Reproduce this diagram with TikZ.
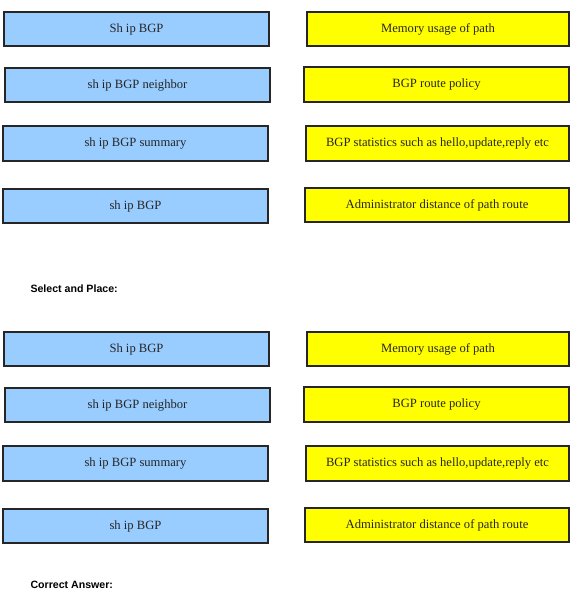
\documentclass[tikz,border=0pt]{standalone}
\usepackage{fontspec}
\setmainfont{Liberation Serif}
\newfontfamily\labelfont{Liberation Sans}

\definecolor{cmdblue}{HTML}{99CCFF}
\definecolor{descyellow}{HTML}{FFFF00}

\tikzset{
  cmdbox/.style={draw=black!85, line width=1.2pt, fill=cmdblue, inner sep=0pt,
    text=black!85, font=\fontsize{12.6}{14}\selectfont},
  descbox/.style={cmdbox, fill=descyellow},
  section/.style={anchor=west, font=\labelfont\bfseries\fontsize{10.6}{12}\selectfont}
}

\begin{document}
\begin{tikzpicture}[x=1pt,y=-1pt]

\useasboundingbox (0,0) rectangle (577,601);

% Commandes et descriptions, deux fois
\foreach \part/\dy in {top/0,bot/320}
{
\begin{scope}[yshift=-\dy pt]

\node[cmdbox, minimum width=265pt, minimum height=34pt] (sh1-\part) at (136.5,29)
{Sh ip BGP};

\node[cmdbox, minimum width=265pt, minimum height=34pt] (sh2-\part) at (137.5,85)
{sh ip BGP neighbor};

\node[cmdbox, minimum width=265pt, minimum height=35pt] (sh3-\part) at (135.5,143.5)
{sh ip BGP summary};

\node[cmdbox, minimum width=265pt, minimum height=34pt] (sh4-\part) at (135.5,206)
{sh ip BGP};

\node[descbox, minimum width=262pt, minimum height=34pt] (desc1-\part) at (438,29)
{Memory usage of path};

\node[descbox, minimum width=265pt, minimum height=35pt] (desc2-\part) at (436.5,84.5)
{BGP route policy};

\node[descbox, minimum width=263pt, minimum height=35pt] (desc3-\part) at (437.5,143.5)
{BGP statistics such as hello,update,reply etc};

\node[descbox, minimum width=264pt, minimum height=34pt] (desc4-\part) at (437,205)
{Administrator distance of path route};

\end{scope}
}

% Titres
\node[section] (select) at (27,289)
{Select and Place:};

\node[section] (answer) at (27,585)
{Correct Answer:};

\end{tikzpicture}
\end{document}
